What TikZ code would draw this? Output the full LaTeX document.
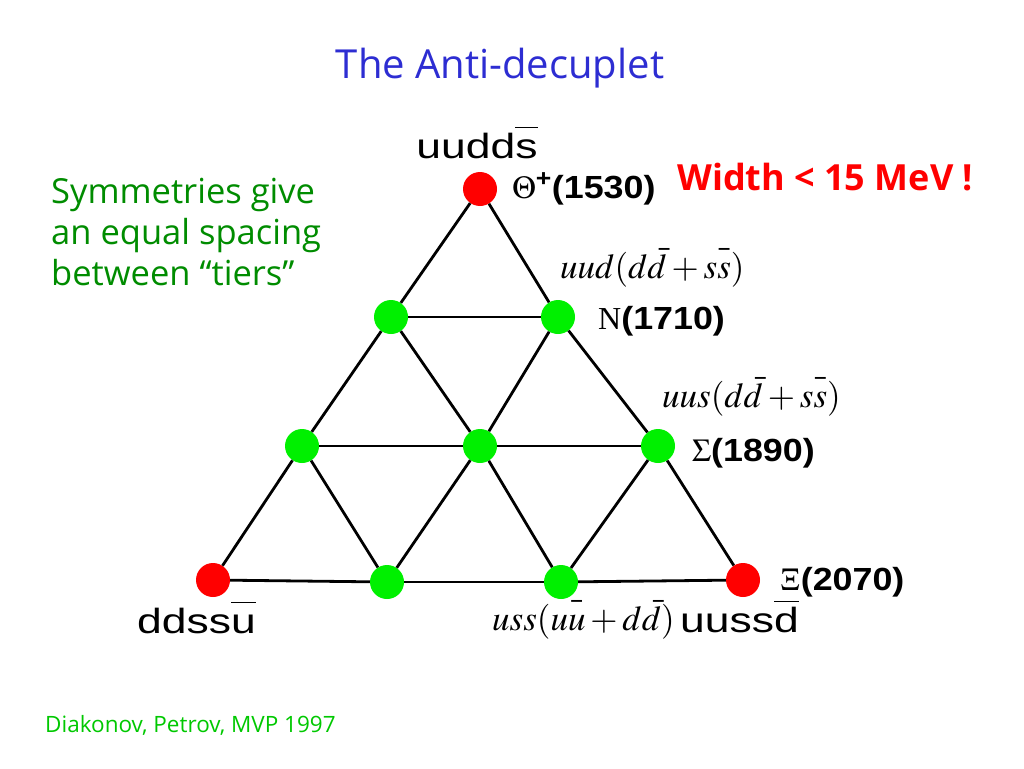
\documentclass[tikz,border=0pt]{standalone}
\usepackage{mathptmx}
\usepackage{graphicx}
\usepackage{fontspec}
\setmainfont{Liberation Sans}
\newfontfamily\quarkfont[FakeStretch=1.27]{Liberation Sans}
\newfontfamily\massfont[FakeStretch=1.12]{Liberation Sans}
\newfontfamily\serifN{Liberation Serif}
\newfontfamily\slidefont{Open Sans}

\definecolor{titleblue}{RGB}{45,45,210}
\definecolor{textgreen}{RGB}{0,140,0}
\definecolor{citegreen}{RGB}{0,200,0}
\definecolor{dotred}{RGB}{255,0,0}
\definecolor{dotgreen}{RGB}{0,240,0}

% bar over a quark letter
\newcommand{\qbar}[1]{$\overline{\mbox{\vphantom{d}#1}}$}
\newcommand{\mbar}[1]{\bar{\vphantom{d}#1}}

\begin{document}
\begin{tikzpicture}[
        x=1pt, y=-1pt,
        dot/.style={circle, inner sep=0pt, minimum size=34pt},
        reddot/.style={dot, fill=dotred},
        greendot/.style={dot, fill=dotgreen},
        edge/.style={line width=2.8pt},
        quark/.style={font=\quarkfont\fontsize{35}{40}\selectfont, inner sep=0pt},
        mass/.style={font=\massfont\bfseries\fontsize{32}{36}\selectfont, inner sep=0pt, anchor=base west},
        mix/.style={font=\fontsize{35}{40}\selectfont, inner sep=0pt, anchor=base west},
        slide/.style={inner sep=0pt}
    ]
    \useasboundingbox (0,0) rectangle (1024,768);

    \node[slide, font=\slidefont\fontsize{40}{46}\selectfont, color=titleblue, anchor=base] (title) at (500,78) {The Anti-decuplet};

    \node[reddot] (theta) at (480,189) {};
    \node[greendot] (nuc1) at (391,317) {};
    \node[greendot] (nuc2) at (558,317) {};
    \node[greendot] (sig1) at (302,446) {};
    \node[greendot] (sig2) at (480,446) {};
    \node[greendot] (sig3) at (658,446) {};
    \node[reddot] (xi1) at (213,580) {};
    \node[greendot] (xi2) at (387,582) {};
    \node[greendot] (xi3) at (561,582) {};
    \node[reddot] (xi4) at (743,580) {};

    \foreach \a/\b in {theta/nuc1, nuc1/sig1, sig1/xi1, theta/nuc2, nuc2/sig3, sig3/xi4,
                       xi1/xi2, xi2/xi3, xi3/xi4, nuc1/nuc2, sig1/sig2, sig2/sig3,
                       nuc1/sig2, sig2/xi3, nuc2/sig2, sig2/xi2, sig1/xi2, sig3/xi3}
        \draw[edge] (\a) -- (\b);

    \node[quark, anchor=base] (thetaq) at (477,158) {uudd\qbar{s}};
    \node[mass] (thetam) at (512,198) {$\Theta$\textsuperscript{+}(1530)};
    \node[slide, font=\slidefont\bfseries\fontsize{36}{42}\selectfont, color=dotred, anchor=base west] (width) at (677,190) {Width < 15 MeV !};

    \node[mix] (nucq) at (560,278) {$uud(d\bar{d}+s\mbar{s})$};
    \node[mass] (nucm) at (598,329) {{\serifN\mdseries N}(1710)};

    \node[mix] (sigq) at (662,407) {$uus(d\bar{d}+s\mbar{s})$};
    \node[mass] (sigm) at (692,461) {$\Sigma$(1890)};

    \node[mass] (xim) at (780,590) {$\Xi$(2070)};
    \node[quark, anchor=base west] (xiq1) at (137,633) {ddss\qbar{u}};
    \node[mix] (xiq2) at (492,630) {$uss(u\mbar{u}+d\bar{d})$};
    \node[quark, anchor=base west] (xiq4) at (680,632) {uuss\qbar{d}};

    \node[slide, font=\slidefont\fontsize{34.5}{41}\selectfont, color=textgreen, align=left, anchor=north west] (note) at (51,178) {Symmetries give\\an equal spacing\\between “tiers”};

    \node[slide, font=\slidefont\fontsize{22.5}{26}\selectfont, color=citegreen, anchor=base west] (cite) at (45,732) {Diakonov, Petrov, MVP 1997};

\end{tikzpicture}
\end{document}
